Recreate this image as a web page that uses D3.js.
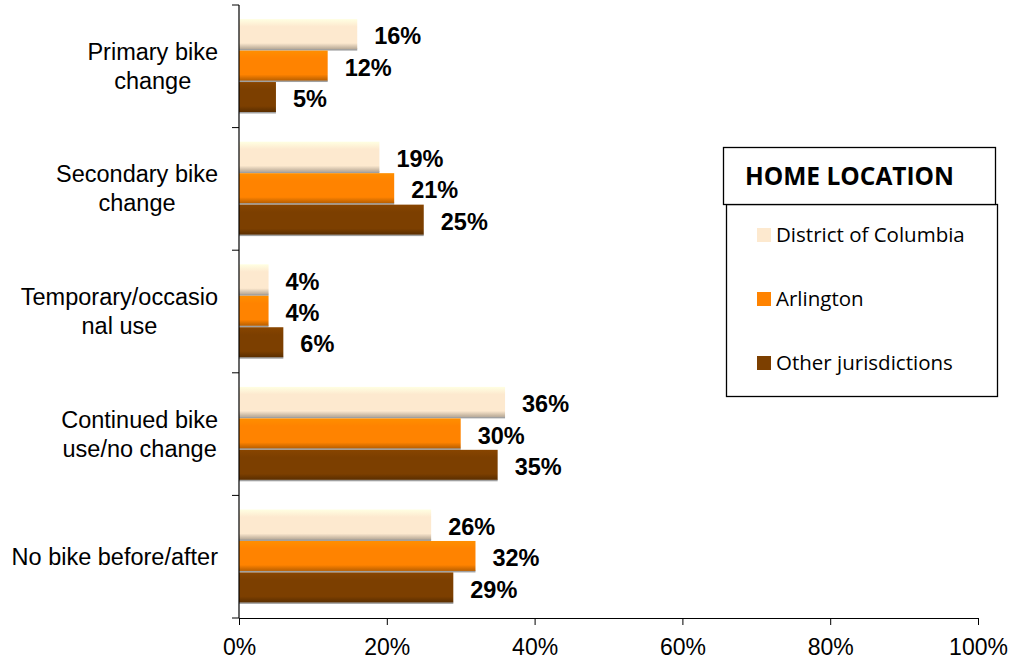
<!DOCTYPE html>
<html><head><meta charset="utf-8">
<script src="https://cdn.jsdelivr.net/npm/d3@7"></script>
<style>body{margin:0;background:#fff}svg{display:block}</style>
</head><body>
<svg id="c" width="1011" height="662"></svg>
<script>
const categories = ["Primary bike change","Secondary bike change","Temporary/occasional use","Continued bike use/no change","No bike before/after"];
const categoryLines = [["Primary bike","change"],["Secondary bike","change"],["Temporary/occasio","nal use"],["Continued bike","use/no change"],["No bike before/after"]];
const seriesNames = ["District of Columbia","Arlington","Other jurisdictions"];
const dcValues = [16,19,4,36,26];
const arlingtonValues = [12,21,4,30,32];
const otherValues = [5,25,6,35,29];
const xTicks = [0,20,40,60,80,100];
const colors = ["#fde9cf","#ff8300","#7c3f00"];
const series = [dcValues, arlingtonValues, otherValues];

const svg = d3.select("#c");
const x = d3.scaleLinear().domain([0,100]).range([239,978]);
const y = d3.scaleBand().domain(categories).range([5,618]).paddingInner(0.23).paddingOuter(0.115);
const ys = d3.scaleBand().domain(seriesNames).range([0,y.bandwidth()]);

const defs = svg.append("defs");
colors.forEach((c,i)=>{
  const g = defs.append("linearGradient").attr("id","g"+i).attr("x1",0).attr("y1",0).attr("x2",0).attr("y2",1);
  const col = d3.color(c);
  g.append("stop").attr("offset","0%").attr("stop-color",col.brighter(0.25));
  g.append("stop").attr("offset","25%").attr("stop-color",c);
  g.append("stop").attr("offset","80%").attr("stop-color",c);
  g.append("stop").attr("offset","100%").attr("stop-color",col.darker(0.9));
});

// bars
series.forEach((vals,si)=>{
  const gr = svg.append("g");
  gr.selectAll("rect.sh").data(vals).join("rect")
    .attr("x",x(0)).attr("y",(d,i)=>y(categories[i])+ys(seriesNames[si])+ys.bandwidth()-2)
    .attr("width",d=>x(d)-x(0)).attr("height",2).attr("fill","#777").attr("opacity",0.7);
  gr.selectAll("rect.b").data(vals).join("rect")
    .attr("x",x(0)).attr("y",(d,i)=>y(categories[i])+ys(seriesNames[si]))
    .attr("width",d=>x(d)-x(0)).attr("height",ys.bandwidth()-1.5).attr("fill","url(#g"+si+")");
  gr.selectAll("text").data(vals).join("text")
    .attr("x",d=>x(d)+17).attr("y",(d,i)=>y(categories[i])+ys(seriesNames[si])+ys.bandwidth()/2+9.5)
    .attr("font-family","Liberation Sans, Arial, sans-serif").attr("font-weight","bold").attr("font-size",23.5)
    .attr("fill","#000").text(d=>d+"%");
});

// axes
const xAxis = d3.axisBottom(x).tickValues(xTicks).tickFormat(d=>d+"%").tickSize(7).tickSizeOuter(0);
const gx = svg.append("g").attr("transform","translate(0,618)").call(xAxis);
gx.select(".domain").attr("stroke","#000").attr("stroke-width",1.2);
gx.selectAll(".tick line").attr("stroke","#000");
gx.selectAll(".tick text").attr("font-family","Liberation Sans, Arial, sans-serif").attr("font-size",23).attr("fill","#000").attr("y",37).attr("dy",0);

const gy = svg.append("g");
gy.append("line").attr("x1",239).attr("x2",239).attr("y1",5).attr("y2",618).attr("stroke","#000").attr("stroke-width",1.2);
const bounds = categories.map(c=>y(c)-y.step()*y.paddingInner()/2).concat([618]);
gy.selectAll("line.t").data(bounds).join("line").attr("class","t")
  .attr("x1",232).attr("x2",239).attr("y1",d=>d).attr("y2",d=>d).attr("stroke","#000");
categories.forEach((c,i)=>{
  const lines = categoryLines[i];
  const cy = y(c)+y.bandwidth()/2;
  const t = gy.append("text").attr("text-anchor","middle")
    .attr("font-family","Liberation Sans, Arial, sans-serif").attr("font-size",23.5).attr("fill","#000");
  const spans = lines.map((l,j)=>t.append("tspan").attr("y",cy + (j-(lines.length-1)/2)*29 + 8).text(l));
  const maxW = d3.max(spans, s=>s.node().getComputedTextLength());
  spans.forEach(s=>s.attr("x",218-maxW/2));
});

// legend
const lg = svg.append("g");
lg.append("rect").attr("x",726.5).attr("y",204.5).attr("width",271).attr("height",192).attr("fill","#fff").attr("stroke","#000").attr("stroke-width",1.3);
lg.append("rect").attr("x",723.5).attr("y",147.5).attr("width",272).attr("height",57).attr("fill","#fff").attr("stroke","#000").attr("stroke-width",1.3);
lg.append("text").attr("x",745).attr("y",185).attr("font-family","Open Sans, Lato, sans-serif").attr("font-weight","bold").attr("font-size",24.5).attr("fill","#000").text("HOME LOCATION");
const rowY = d3.scalePoint().domain(seriesNames).range([242,370]);
seriesNames.forEach((s,i)=>{
  lg.append("rect").attr("x",757).attr("y",rowY(s)-14).attr("width",14).attr("height",14).attr("fill",colors[i]);
  lg.append("text").attr("x",776).attr("y",rowY(s)).attr("font-family","Open Sans, Lato, sans-serif").attr("font-size",20.5).attr("fill","#000").text(s);
});
</script>
</body></html>
